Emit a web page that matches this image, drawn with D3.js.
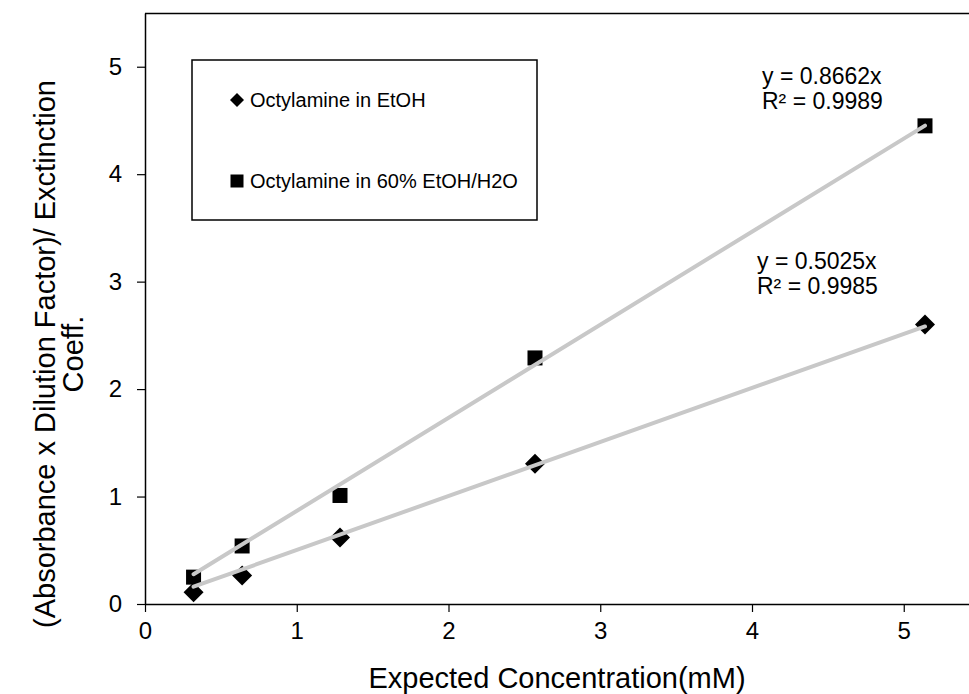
<!DOCTYPE html>
<html>
<head>
<meta charset="utf-8">
<script src="https://cdn.jsdelivr.net/npm/d3@7"></script>
<style>
  html, body { margin: 0; padding: 0; background: #fff; }
  svg { display: block; }
  text { font-family: "Liberation Sans", Arial, sans-serif; fill: #000; }
</style>
</head>
<body>
<svg id="chart" width="969" height="694"></svg>
<script>
// ---- data ----
const concentration = [0.32, 0.64, 1.285, 2.57, 5.14];
const etohValues = [0.11, 0.265, 0.62, 1.305, 2.60];
const mixValues = [0.25, 0.54, 1.01, 2.29, 4.45];
const seriesNames = ["Octylamine in EtOH", "Octylamine in 60% EtOH/H2O"];
const slopes = [0.5025, 0.8662];
const equationLabels = [["y = 0.5025x", "R² = 0.9985"], ["y = 0.8662x", "R² = 0.9989"]];
const xTicks = [0, 1, 2, 3, 4, 5];
const yTicks = [0, 1, 2, 3, 4, 5];
const xTitle = "Expected Concentration(mM)";
const yTitleLines = ["(Absorbance x Dilution Factor)/ Exctinction", "Coeff."];

// ---- layout ----
const svg = d3.select("#chart");
const mLeft = 145, mRight = 969, mTop = 13, mBottom = 604;
const x = d3.scaleLinear().domain([0, 5.43]).range([mLeft, mRight]);
const y = d3.scaleLinear().domain([0, 5.5]).range([mBottom, mTop]);
const tickFont = 24, legendFont = 20, eqFont = 23, titleFont = 29;

// frame (top border)
svg.append("line").attr("x1", mLeft).attr("x2", mRight).attr("y1", mTop + 0.5).attr("y2", mTop + 0.5)
  .attr("stroke", "#000").attr("stroke-width", 1.5);

// axes
const xAxis = svg.append("g").attr("transform", `translate(0,${mBottom})`)
  .call(d3.axisBottom(x).tickValues(xTicks).tickFormat(d3.format("d")).tickSize(8).tickPadding(10).tickSizeOuter(0));
const yAxis = svg.append("g").attr("transform", `translate(${mLeft},0)`)
  .call(d3.axisLeft(y).tickValues(yTicks).tickFormat(d3.format("d")).tickSize(8).tickPadding(15).tickSizeOuter(0));
[xAxis, yAxis].forEach(g => {
  g.attr("font-size", tickFont).attr("font-family", "Liberation Sans, Arial, sans-serif");
  g.select(".domain").attr("stroke", "#000").attr("stroke-width", 1.5);
  g.selectAll(".tick line").attr("stroke", "#000").attr("stroke-width", 1.2);
  g.selectAll(".tick text").attr("font-size", tickFont).attr("fill", "#000");
});

// markers
function drawDiamond(g, cx, cy, s) {
  g.append("path")
    .attr("d", `M${cx},${cy - s}L${cx + s},${cy}L${cx},${cy + s}L${cx - s},${cy}Z`)
    .attr("fill", "#000");
}
function drawSquare(g, cx, cy, s) {
  g.append("rect").attr("x", cx - s).attr("y", cy - s).attr("width", 2 * s).attr("height", 2 * s).attr("fill", "#000");
}

const marks = svg.append("g");
concentration.forEach((c, i) => drawSquare(marks, x(c), y(mixValues[i]), 7.5));
concentration.forEach((c, i) => drawDiamond(marks, x(c), y(etohValues[i]), 10));

// trendlines (drawn over markers)
const x0 = concentration[0], x1 = concentration[concentration.length - 1];
slopes.forEach(m => {
  svg.append("line")
    .attr("x1", x(x0)).attr("y1", y(m * x0))
    .attr("x2", x(x1)).attr("y2", y(m * x1))
    .attr("stroke", "#c8c8c8").attr("stroke-width", 4).attr("stroke-linecap", "round");
});

// equation labels
const eqPos = [[757, 269], [762, 84]];
equationLabels.forEach((lines, i) => {
  lines.forEach((t, j) => {
    svg.append("text").attr("x", eqPos[i][0]).attr("y", eqPos[i][1] + j * 25)
      .attr("font-size", eqFont).text(t);
  });
});

// legend
const lg = svg.append("g");
lg.append("rect").attr("x", 192).attr("y", 60).attr("width", 345).attr("height", 160)
  .attr("fill", "#fff").attr("stroke", "#000").attr("stroke-width", 1.5);
drawDiamond(lg, 237, 100, 7);
drawSquare(lg, 237, 181, 6.5);
lg.append("text").attr("x", 250).attr("y", 107).attr("font-size", legendFont).text(seriesNames[0]);
lg.append("text").attr("x", 250).attr("y", 188).attr("font-size", legendFont).text(seriesNames[1]);

// axis titles
svg.append("text").attr("x", 557).attr("y", 688).attr("text-anchor", "middle")
  .attr("font-size", titleFont).text(xTitle);
yTitleLines.forEach((t, i) => {
  svg.append("text").attr("transform", `translate(${55 + i * 28},354) rotate(-90)`)
    .attr("text-anchor", "middle").attr("font-size", titleFont).text(t);
});
</script>
</body>
</html>
